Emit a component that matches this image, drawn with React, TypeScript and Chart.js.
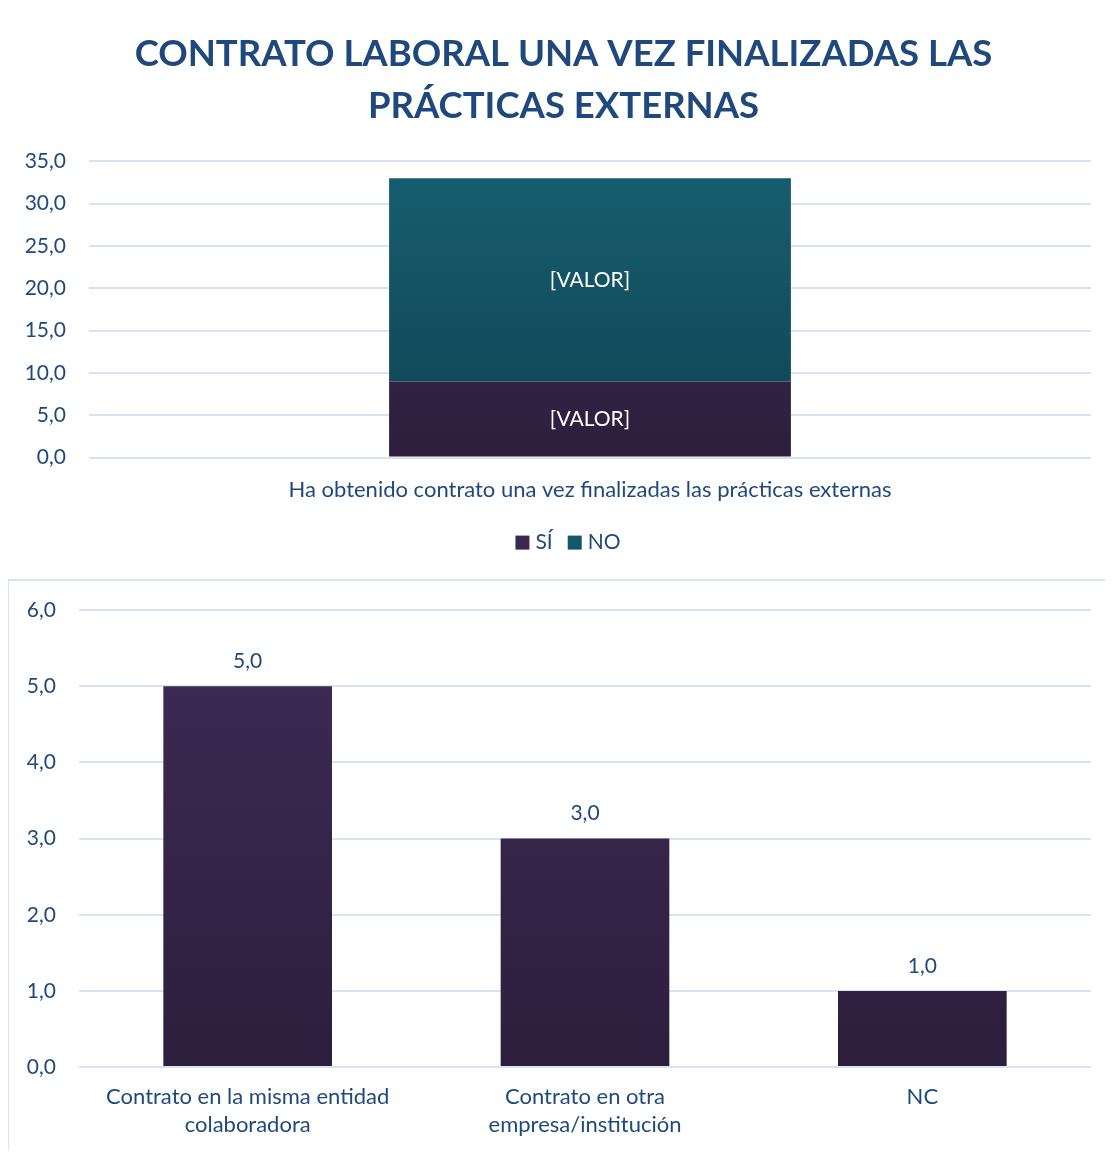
import React, { useEffect, useRef } from "react";
import { Chart, registerables } from "chart.js";

Chart.register(...registerables);

const TITLE_LINES = ["CONTRATO LABORAL UNA VEZ FINALIZADAS LAS", "PRÁCTICAS EXTERNAS"];
const TOP_CATEGORIES = ["Ha obtenido contrato una vez finalizadas las prácticas externas"];
const TOP_SERIES_NAMES = ["SÍ", "NO"];
const TOP_SI = [9];
const TOP_NO = [24];
const TOP_LABEL_TEXT = "[VALOR]";

const BOTTOM_CATEGORIES = [
  ["Contrato en la misma entidad", "colaboradora"],
  ["Contrato en otra", "empresa/institución"],
  ["NC"],
];
const BOTTOM_VALUES = [5, 3, 1];

const FONT = "Lato, 'Open Sans', sans-serif";
const TEXT = "#1F497D";
const GRID = "#D9E2F3";
const LEGEND_COLORS = ["#3B2850", "#145868"];

const TITLE_SIZE = 36.5;
const TITLE_LH = 1.43;
const TITLE_PAD_TOP = 13;

const fmt = (v: number) => Number(v).toFixed(1).replace(".", ",");

function gradient(ctx: any, top: string, bottom: string) {
  const chart = ctx.chart;
  const area = chart.chartArea;
  if (!area) return top;
  const meta = chart.getDatasetMeta(ctx.datasetIndex);
  const el = meta && meta.data && meta.data[ctx.dataIndex];
  let y0 = area.top;
  let y1 = area.bottom;
  if (el && typeof el.y === "number" && typeof el.base === "number" && isFinite(el.y)) {
    y0 = el.y;
    y1 = el.base;
  }
  if (!isFinite(y0) || !isFinite(y1) || y0 === y1) return top;
  const g = chart.ctx.createLinearGradient(0, y0, 0, y1);
  g.addColorStop(0, top);
  g.addColorStop(1, bottom);
  return g;
}

const insideLabels = {
  id: "insideLabels",
  afterDatasetsDraw(chart: any) {
    const ctx = chart.ctx;
    ctx.save();
    ctx.fillStyle = "#FFFFFF";
    ctx.font = `21px ${FONT}`;
    ctx.textAlign = "center";
    ctx.textBaseline = "middle";
    chart.data.datasets.forEach((ds: any, di: number) => {
      const meta = chart.getDatasetMeta(di);
      meta.data.forEach((el: any) => {
        ctx.fillText(TOP_LABEL_TEXT, el.x, (el.y + el.base) / 2);
      });
    });
    ctx.restore();
  },
};

// Title and legend centred on the whole box (as in the reference), not the padded layout area
const titleAndLegend = {
  id: "titleAndLegend",
  afterDraw(chart: any) {
    const ctx = chart.ctx;
    const cx = chart.width / 2 + 3.5;
    ctx.save();
    ctx.fillStyle = TEXT;
    ctx.font = `bold ${TITLE_SIZE}px ${FONT}`;
    ctx.textAlign = "center";
    ctx.textBaseline = "middle";
    const tb = chart.titleBlock;
    const lh = TITLE_SIZE * TITLE_LH;
    TITLE_LINES.forEach((line, i) => {
      ctx.fillText(line, cx, tb.top + TITLE_PAD_TOP + lh * (i + 0.5));
    });

    // legend
    ctx.font = `21px ${FONT}`;
    ctx.textAlign = "left";
    const box = 14;
    const gap = 6;
    const itemGap = 15;
    const widths = TOP_SERIES_NAMES.map((n) => box + gap + ctx.measureText(n).width);
    const total = widths.reduce((a, b) => a + b, 0) + itemGap * (widths.length - 1);
    let x = cx + 4.5 - total / 2;
    const y = chart.chartArea.bottom + 85;
    TOP_SERIES_NAMES.forEach((n, i) => {
      ctx.fillStyle = LEGEND_COLORS[i];
      ctx.fillRect(x, y - box / 2, box, box);
      ctx.fillStyle = TEXT;
      ctx.fillText(n, x + box + gap, y);
      x += widths[i] + itemGap;
    });
    ctx.restore();
  },
};

const topLabels = {
  id: "topLabels",
  afterDatasetsDraw(chart: any) {
    const ctx = chart.ctx;
    ctx.save();
    ctx.fillStyle = TEXT;
    ctx.font = `21px ${FONT}`;
    ctx.textAlign = "center";
    ctx.textBaseline = "middle";
    chart.data.datasets.forEach((ds: any, di: number) => {
      const meta = chart.getDatasetMeta(di);
      meta.data.forEach((el: any, i: number) => {
        ctx.fillText(fmt(ds.data[i]), el.x, el.y - 25);
      });
    });
    ctx.restore();
  },
};

function TopChart() {
  const ref = useRef<HTMLCanvasElement>(null);
  useEffect(() => {
    const chart = new Chart(ref.current!, {
      type: "bar",
      data: {
        labels: TOP_CATEGORIES,
        datasets: [
          {
            label: TOP_SERIES_NAMES[0],
            data: TOP_SI,
            backgroundColor: (c: any) => gradient(c, "#3F2B56", "#2D1E3D"),
            categoryPercentage: 1,
            barPercentage: 0.401,
          },
          {
            label: TOP_SERIES_NAMES[1],
            data: TOP_NO,
            backgroundColor: (c: any) => gradient(c, "#175E70", "#0E4454"),
            categoryPercentage: 1,
            barPercentage: 0.401,
          },
        ],
      },
      options: {
        animation: false,
        responsive: false,
        maintainAspectRatio: false,
        layout: { padding: { left: 0, right: 22, top: 10, bottom: 65 } },
        plugins: {
          title: {
            display: true,
            text: TITLE_LINES,
            color: "rgba(0,0,0,0)",
            font: { family: FONT, size: TITLE_SIZE, weight: "bold", lineHeight: TITLE_LH },
            padding: { top: TITLE_PAD_TOP, bottom: 29 },
          },
          legend: { display: false },
          tooltip: { enabled: false },
        },
        scales: {
          x: {
            stacked: true,
            grid: { display: false },
            border: { display: false },
            ticks: { color: TEXT, font: { family: FONT, size: 22 }, padding: 11 },
          },
          y: {
            stacked: true,
            min: 0,
            max: 35,
            afterFit: (s: any) => {
              s.width = 82;
            },
            ticks: {
              stepSize: 5,
              color: TEXT,
              font: { family: FONT, size: 21 },
              padding: 23,
              callback: (v: any) => fmt(v),
            },
            grid: { color: GRID, lineWidth: 2, drawTicks: false },
            border: { display: false },
          },
        },
      },
      plugins: [insideLabels, titleAndLegend],
    });
    return () => chart.destroy();
  }, []);
  return <canvas ref={ref} width={1106} height={574} style={{ display: "block" }} />;
}

function BottomChart() {
  const ref = useRef<HTMLCanvasElement>(null);
  useEffect(() => {
    const chart = new Chart(ref.current!, {
      type: "bar",
      data: {
        labels: BOTTOM_CATEGORIES,
        datasets: [
          {
            label: "Contrato",
            data: BOTTOM_VALUES,
            backgroundColor: (c: any) => gradient(c, "#3F2B56", "#2D1E3D"),
            categoryPercentage: 1,
            barPercentage: 0.5,
          },
        ],
      },
      options: {
        animation: false,
        responsive: false,
        maintainAspectRatio: false,
        layout: { autoPadding: false, padding: { left: 0, right: 22, top: 29, bottom: 9 } },
        plugins: {
          legend: { display: false },
          title: { display: false },
          tooltip: { enabled: false },
        },
        scales: {
          x: {
            grid: { display: false },
            border: { display: false },
            ticks: {
              color: TEXT,
              font: { family: FONT, size: 22, lineHeight: 1.27 },
              padding: 8,
              maxRotation: 0,
            },
          },
          y: {
            min: 0,
            max: 6,
            afterFit: (s: any) => {
              s.width = 70;
              s.paddingTop = 12;
              s.paddingBottom = 12;
            },
            ticks: {
              stepSize: 1,
              color: TEXT,
              font: { family: FONT, size: 21 },
              padding: 23,
              callback: (v: any) => fmt(v),
            },
            grid: { color: GRID, lineWidth: 2, drawTicks: false },
            border: { display: false },
          },
        },
      },
      plugins: [topLabels],
    });
    return () => chart.destroy();
  }, []);
  return <canvas ref={ref} width={1104} height={575} style={{ display: "block" }} />;
}

export default function App() {
  return (
    <div style={{ position: "relative", margin: -8, width: 1113, height: 1158, background: "#fff", overflow: "hidden" }}>
      <div
        style={{
          position: "absolute",
          left: 6,
          top: 4,
          width: 1120,
          height: 574,
          border: "1px solid #DAE3F3",
        }}
      >
        <TopChart />
      </div>
      <div
        style={{
          position: "absolute",
          left: 8,
          top: 580,
          width: 1120,
          height: 575,
          border: "1px solid #DAE3F3",
        }}
      >
        <BottomChart />
      </div>
    </div>
  );
}
